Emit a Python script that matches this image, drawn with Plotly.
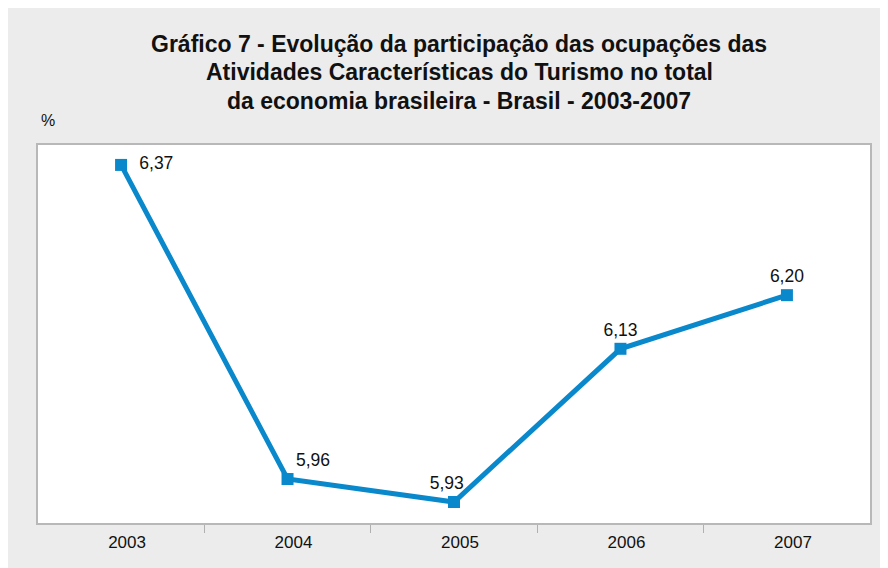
import plotly.graph_objects as go

years = ["2003", "2004", "2005", "2006", "2007"]
values = [6.37, 5.96, 5.93, 6.13, 6.20]
label_positions = ["middle right", "top right", "top center", "top center", "top center"]
label_templates = ["  %{y:.2f}", "%{y:.2f}", "%{y:.2f}   ", "%{y:.2f}", "%{y:.2f}"]

title_lines = [
    "Gráfico 7 - Evolução da participação das ocupações das",
    "Atividades Características do Turismo no total",
    "da economia brasileira - Brasil - 2003-2007",
]

# page is shown with an 8px body margin; reference pixel p -> figure p - OFF
OFF = 8
W, H = 888, 568
L, T = 38 - OFF, 145 - OFF
R = W - (870 - OFF)
B = H - (523 - OFF)
pw, ph = W - L - R, H - T - B

def px_x(x):
    return (x - OFF - L) / pw

def px_y(y):
    return (H - B - (y - OFF)) / ph

BLUE = "#0a88cc"
BG = "#ececec"
FONT = "Liberation Sans, Arial, sans-serif"

fig = go.Figure()
fig.add_trace(go.Scatter(
    x=years, y=values, mode="lines+markers+text",
    line=dict(color=BLUE, width=5),
    marker=dict(symbol="square", size=12, color=BLUE),
    texttemplate=label_templates,
    textposition=label_positions,
    textfont=dict(size=17.5, color="#111", family=FONT),
    cliponaxis=False,
    hoverinfo="skip",
))

annotations = []
for line, yp in zip(title_lines, [44, 72, 101]):
    annotations.append(dict(
        text="<b>" + line + "</b>", x=px_x(459), y=px_y(yp),
        xref="paper", yref="paper", xanchor="center", yanchor="middle",
        showarrow=False, font=dict(size=23, color="#111", family=FONT),
    ))
annotations.append(dict(
    text="%", x=px_x(39), y=px_y(120), xref="paper", yref="paper",
    xanchor="left", yanchor="middle", showarrow=False,
    font=dict(size=16, color="#111", family=FONT),
))

fig.update_layout(
    width=W, height=H,
    margin=dict(l=L, r=R, t=T, b=B),
    paper_bgcolor=BG, plot_bgcolor="white",
    separators=",.",
    showlegend=False,
    annotations=annotations,
    font=dict(family=FONT, color="#111"),
)
fig.update_xaxes(
    type="category", range=[-0.499, 4.499], tickson="boundaries", ticks="outside", ticklen=8,
    tickcolor="#b0b0b0", showline=True, linecolor="#b8b8b8", linewidth=1.5,
    mirror=True, showgrid=False, tickfont=dict(size=17, color="#111", family=FONT),
    ticklabelshift=6, ticklabelstandoff=3,
    zeroline=False, fixedrange=True,
)
fig.update_yaxes(
    range=[5.9026, 6.396], showticklabels=False, ticks="", showgrid=False,
    showline=True, linecolor="#b8b8b8", linewidth=1.5, mirror=True,
    zeroline=False, fixedrange=True,
)

fig.write_html("out.html")
